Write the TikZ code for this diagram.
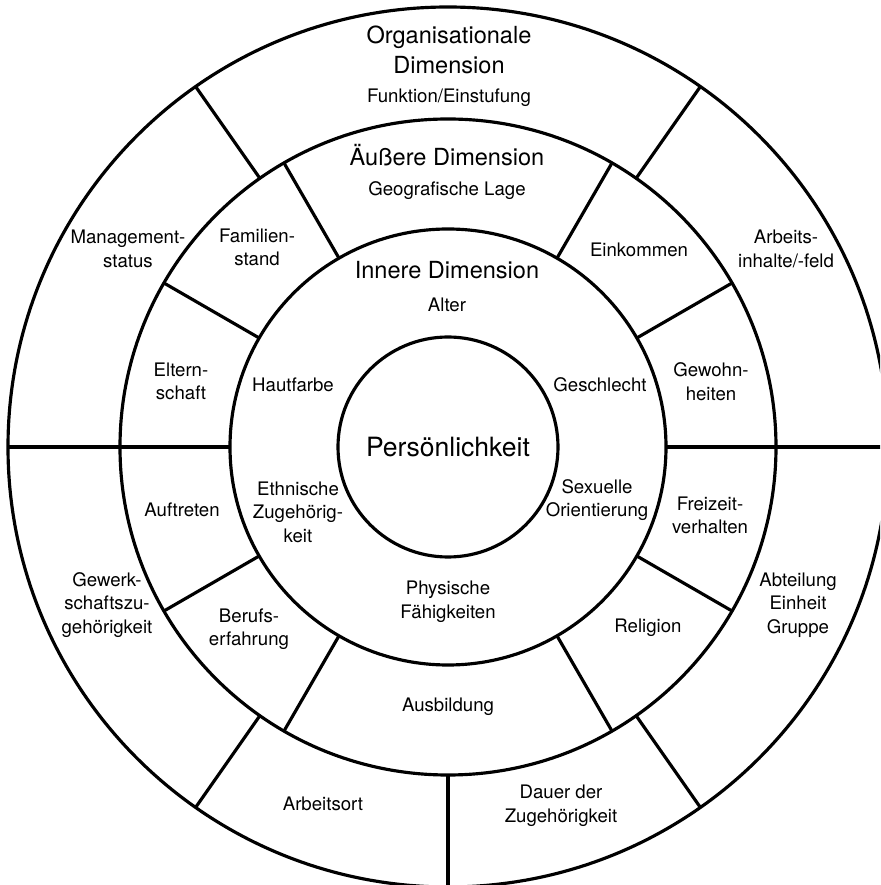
\documentclass[tikz,border=0pt]{standalone}
\usepackage{fontspec}
\setmainfont{TeX Gyre Heros}
\usepackage{tikz}
\usetikzlibrary{positioning,calc}

\begin{document}
\begin{tikzpicture}[
    ring/.style={draw, line width=1.8pt},
    lbl/.style={align=center, inner sep=0pt,
                font=\fontsize{10.6}{13.4}\selectfont},
    ttl/.style={align=center, inner sep=0pt,
                font=\fontsize{13.4}{17}\selectfont},
]
\useasboundingbox (-8.96,-8.76) rectangle (8.64,8.94);
\clip (-8.96,-8.76) rectangle (8.64,8.94);

% rings
\draw[ring] (0,0) circle (8.8);
\draw[ring] (0,0) circle (6.56);
\draw[ring] (0,0) circle (4.36);
\node[ring, circle, minimum size=4.4cm, inner sep=0pt,
      font=\fontsize{15.1}{18}\selectfont] (core) at (0,0) {Persönlichkeit};

% dividers
\foreach \a in {0,180}
    \draw[ring] (\a:4.36) -- (\a:8.8);
\foreach \a in {30,60,120,150,210,240,300,330}
    \draw[ring] (\a:4.36) -- (\a:6.56);
\foreach \a in {55,125,235,270,305}
    \draw[ring] (\a:6.56) -- (\a:8.8);

% organisational dimension
\node[ttl] (orgT) at (0.02,7.94) {Organisationale\\Dimension};
\node[lbl] (funk) at (0.02,6.98) {Funktion/Einstufung};
\node[lbl] (mgmt) at (-6.4,3.96) {Management-\\status};
\node[lbl] (arbI) at (6.76,3.96) {Arbeits-\\inhalte/-feld};
\node[lbl] (gewk) at (-6.82,-3.16) {Gewerk-\\schaftszu-\\gehörigkeit};
\node[lbl] (abtl) at (7.0,-3.16) {Abteilung\\Einheit\\Gruppe};
\node[lbl] (aort) at (-2.5,-7.14) {Arbeitsort};
\node[lbl] (dauer) at (2.26,-7.18) {Dauer der\\Zugehörigkeit};

% outer dimension
\node[ttl] (ausT) at (-0.02,5.84) {Äußere Dimension};
\node[lbl] (geo) at (-0.02,5.12) {Geografische Lage};
\node[lbl] (fam) at (-3.82,3.99) {Familien-\\stand};
\node[lbl] (eink) at (3.82,3.94) {Einkommen};
\node[lbl] (eltern) at (-5.34,1.31) {Eltern-\\schaft};
\node[lbl] (gewohn) at (5.26,1.31) {Gewohn-\\heiten};
\node[lbl] (auftr) at (-5.32,-1.26) {Auftreten};
\node[lbl] (freiz) at (5.24,-1.37) {Freizeit-\\verhalten};
\node[lbl] (beruf) at (-3.98,-3.64) {Berufs-\\erfahrung};
\node[lbl] (relig) at (4.0,-3.62) {Religion};
\node[lbl] (ausb) at (0,-5.2) {Ausbildung};

% inner dimension
\node[ttl] (innT) at (-0.02,3.54) {Innere Dimension};
\node[lbl] (alter) at (-0.02,2.84) {Alter};
\node[lbl] (haut) at (-3.1,1.24) {Hautfarbe};
\node[lbl] (geschl) at (3.04,1.24) {Geschlecht};
\node[lbl] (ethn) at (-3.0,-1.3) {Ethnische\\Zugehörig-\\keit};
\node[lbl] (sex) at (2.98,-1.06) {Sexuelle\\Orientierung};
\node[lbl] (phys) at (0,-3.1) {Physische\\Fähigkeiten};
\end{tikzpicture}
\end{document}
